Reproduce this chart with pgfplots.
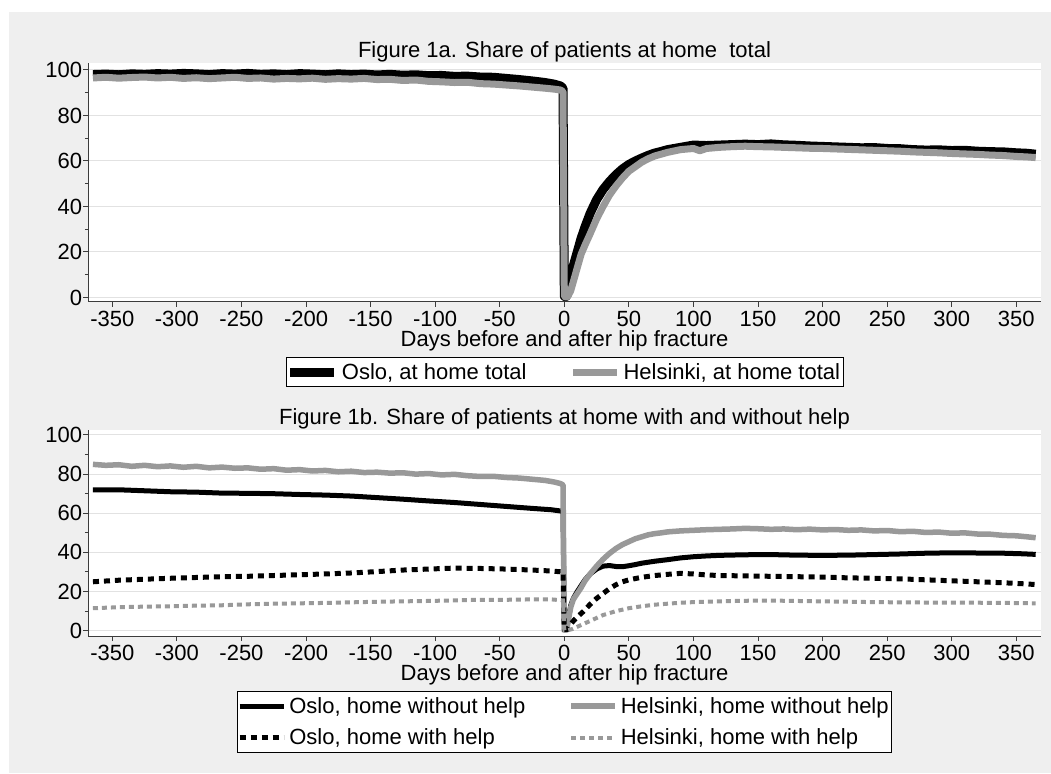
\documentclass[border=0pt]{standalone}
\usepackage{fontspec}
\setmainfont{Liberation Sans}
\usepackage{pgfplots}
\pgfplotsset{compat=1.18}
\definecolor{bgc}{RGB}{239,239,239}
\definecolor{hel}{RGB}{153,153,153}
\definecolor{gridc}{RGB}{226,226,226}
\definecolor{axc}{RGB}{60,60,60}
\newcommand{\bigf}{\fontsize{22}{25}\selectfont}
\pgfplotsset{
  stata/.style={
    scale only axis, width=952.4pt,
    xmin=-368.6, xmax=368.9,
    axis x line*=bottom, axis y line*=left,
    axis line style={axc, line width=1pt},
    axis background/.style={fill=white},
    xtick={-350,-300,...,350},
    ytick={0,20,...,100},
    minor ytick={10,30,...,90},
    tick align=outside,
    major tick length=5pt, minor tick length=3.5pt,
    every tick/.style={axc, line width=1pt},
    ymajorgrids, major grid style={gridc, line width=1pt},
    /pgf/number format/assume math mode=true,
    ticklabel style={font=\bigf},
    xticklabel style={inner sep=1pt, yshift=-3pt},
    yticklabel style={inner sep=1pt},
    legend columns=2,
    legend cell align=left,
    legend image code/.code={\draw[##1] (0pt,0pt) -- (36pt,0pt); \path (0pt,0pt) -- (44pt,0pt);},
    clip=true,
  },
  statalegend/.style={draw=black, line width=0.8pt, fill=white, font=\bigf,
    inner xsep=0pt, inner ysep=2pt, row sep=6pt,
    nodes={inner ysep=4pt, inner xsep=3pt},
    /tikz/every even column/.append style={column sep=40pt}},
}
\begin{document}
\begin{tikzpicture}
\useasboundingbox (0pt,0pt) rectangle (1051pt,773pt);
\fill[white] (0pt,0pt) rectangle (1051pt,773pt);
\fill[bgc] (9pt,0pt) rectangle (1051pt,761pt);

\begin{axis}[stata, at={(88.3pt,471pt)}, anchor=south west, height=239pt,
  ymin=-1.98, ymax=103.08,
  legend style={statalegend, at={(0.5,-0.23)}, anchor=north}]
\addplot[black, line width=9pt, line join=round] table {
x y
-365 98.0
-355 98.2
-345 97.9
-335 98.3
-325 98.1
-315 98.4
-305 98.2
-295 98.5
-285 98.3
-275 98.0
-265 98.4
-255 98.2
-245 98.5
-235 98.1
-225 98.3
-215 98.0
-205 98.4
-195 98.2
-185 97.9
-175 98.3
-165 98.0
-155 98.2
-145 97.8
-135 98.1
-125 97.7
-115 97.9
-105 97.5
-95 97.6
-85 97.2
-75 97.3
-65 96.9
-55 96.8
-45 96.3
-35 95.8
-25 95.2
-15 94.5
-8 93.8
-3 93.0
-1 92.0
0 0.5
1 0.3
2 0.8
3 3.5
5 9
7 14
10 20
13 26
16 31
20 37
25 43
30 47.5
35 51
40 54
45 56.5
50 58.5
55 60
60 61.3
65 62.5
70 63.5
75 64.2
80 65
90 66
100 67
110 66.8
120 67
130 67.2
140 67.4
150 67.2
160 67.5
170 67.1
180 66.9
190 66.6
200 66.4
210 66.2
220 66.0
230 65.8
240 65.9
250 65.5
260 65.4
270 65.0
280 64.8
290 64.9
300 64.6
310 64.7
320 64.3
330 64.1
340 64.0
350 63.6
358 63.4
365 63.0
};
\addlegendentry{Oslo, at home total}
\addplot[hel, line width=7pt, line join=round] table {
x y
-365 96.5
-355 96.8
-345 96.4
-335 96.7
-325 96.9
-315 96.5
-305 96.8
-295 96.3
-285 96.6
-275 96.2
-265 96.5
-255 96.8
-245 96.3
-235 96.5
-225 96.0
-215 96.3
-205 96.1
-195 96.4
-185 95.9
-175 96.2
-165 96.0
-155 96.3
-145 95.8
-135 95.9
-125 95.4
-115 95.6
-105 95.0
-95 94.8
-85 94.5
-75 94.6
-65 94.0
-55 93.8
-45 93.4
-35 93.0
-25 92.5
-15 92.0
-8 91.6
-3 91.2
-1 90.5
0 0.5
1 0.2
2 0.3
3 0.8
5 3
7 7
10 13
13 19
16 23
20 28
25 34.5
30 40
35 45
40 49
45 52.5
50 55.5
55 57.5
60 59.5
65 61
70 62.2
75 63
80 63.8
90 65
100 65.5
105 64.5
110 65.5
120 66
130 66.3
140 66.5
150 66.3
160 66.2
170 66.0
180 65.8
190 65.6
200 65.5
210 65.3
220 65.1
230 64.9
240 64.7
250 64.5
260 64.3
270 64.0
280 63.8
290 63.6
300 63.3
310 63.1
320 62.9
330 62.6
340 62.4
350 62.0
358 61.8
365 61.5
};
\addlegendentry{Helsinki, at home total}
\end{axis}

\begin{axis}[stata, at={(88.3pt,137pt)}, anchor=south west, height=206pt,
  ymin=-2.7, ymax=102.55,
  legend style={statalegend, at={(0.5,-0.267)}, anchor=north}]
\addplot[black, line width=5pt, line join=round] table {
x y
-365 72.0
-345 72.0
-325 71.5
-305 71.0
-285 70.8
-265 70.3
-245 70.2
-225 70.0
-205 69.6
-185 69.3
-165 68.8
-145 68.0
-125 67.2
-105 66.3
-85 65.5
-65 64.5
-45 63.5
-25 62.5
-10 61.8
-1 61.0
0 0.5
1 0.5
2 1.5
3 6
5 13
7 16.5
10 20
13 23
16 26
20 29
25 31.5
30 33
35 33.3
40 32.8
45 32.7
50 33.2
55 33.8
60 34.5
70 35.5
80 36.3
90 37.2
100 37.8
110 38.2
120 38.5
140 38.8
160 38.9
180 38.6
200 38.5
220 38.6
240 38.9
260 39.2
280 39.6
300 39.8
320 39.7
340 39.6
355 39.3
365 39.0
};
\addlegendentry{Oslo, home without help}
\addplot[hel, line width=5.5pt, line join=round] table {
x y
-365 85.0
-355 84.5
-345 84.8
-335 84.0
-325 84.5
-315 83.8
-305 84.2
-295 83.5
-285 84.0
-275 83.2
-265 83.6
-255 83.0
-245 83.2
-235 82.5
-225 82.8
-215 82.0
-205 82.3
-195 81.6
-185 81.9
-175 81.2
-165 81.5
-155 80.8
-145 81.0
-135 80.5
-125 80.7
-115 80.0
-105 80.3
-95 79.6
-85 79.9
-75 79.2
-65 78.8
-55 78.9
-45 78.3
-35 78.0
-25 77.4
-15 76.8
-8 76.0
-3 75.2
-1 74.5
0 0.5
1 0.3
2 0.6
3 5
5 12
7 16
10 19
13 22
16 25.5
20 29
25 33
30 36.5
35 39.5
40 42
45 44
50 45.5
55 47
60 48
65 49
70 49.6
75 50
80 50.5
90 51
100 51.3
110 51.6
120 51.8
130 52.0
140 52.3
150 52.1
160 51.8
170 52.0
180 51.6
190 51.9
200 51.5
210 51.7
220 51.3
230 51.5
240 51.0
250 51.2
260 50.6
270 50.8
280 50.2
290 50.4
300 49.8
310 50.0
320 49.4
330 49.3
340 48.7
350 48.5
358 48.0
365 47.5
};
\addlegendentry{Helsinki, home without help}
\addplot[black, line width=5pt, dash pattern=on 6pt off 5pt] table {
x y
-365 25.0
-345 25.8
-325 26.3
-305 26.8
-285 27.2
-265 27.6
-245 27.8
-225 28.2
-205 28.6
-185 29.0
-165 29.5
-145 30.2
-125 31.0
-105 31.5
-85 32.0
-65 31.8
-45 31.5
-25 31.0
-10 30.5
-1 30.0
0 0.5
2 0.5
4 2.5
7 5
10 7
15 10
20 13.5
25 16.5
30 19
35 21.5
40 23.5
45 25
50 26
60 27.3
70 28.2
80 28.8
90 29.3
100 29.0
110 28.5
120 28.2
140 28.0
160 27.8
180 27.6
200 27.4
220 27.0
240 26.8
260 26.5
280 26.0
300 25.5
320 25.0
340 24.5
355 24.0
365 23.6
};
\addlegendentry{Oslo, home with help}
\addplot[hel, line width=4pt, dash pattern=on 5pt off 4pt] table {
x y
-365 11.5
-345 12.0
-325 12.3
-305 12.5
-285 12.8
-265 13.0
-245 13.5
-225 13.8
-205 14.0
-185 14.2
-165 14.5
-145 14.8
-125 15.0
-105 15.2
-85 15.5
-65 15.8
-45 15.8
-25 16.0
-10 16.0
-1 15.5
0 0.3
3 0.3
6 0.8
10 2
15 3.5
20 5
25 6.5
30 8
40 10
50 11.5
60 12.5
70 13.3
80 13.8
90 14.3
100 14.6
120 15.0
140 15.3
160 15.4
180 15.2
200 15.0
220 14.8
240 14.6
260 14.5
280 14.4
300 14.3
320 14.3
340 14.2
365 14.0
};
\addlegendentry{Helsinki, home with help}
\end{axis}

\node[font=\bigf, anchor=base] at (564.5pt,715.7pt) {Figure 1a. Share of patients at home\ \ total};
\node[font=\bigf, anchor=base] at (564.5pt,426.3pt) {Days before and after hip fracture};
\node[font=\bigf, anchor=base] at (564.5pt,348pt) {Figure 1b. Share of patients at home with and without help};
\node[font=\bigf, anchor=base] at (564.5pt,92.3pt) {Days before and after hip fracture};
\end{tikzpicture}
\end{document}
